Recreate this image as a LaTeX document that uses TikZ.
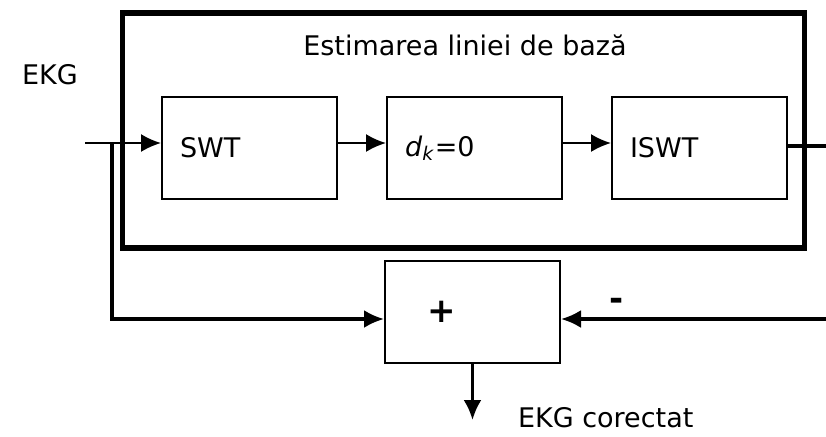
\documentclass[tikz,border=0pt]{standalone}
\usepackage{fontspec}
\setmainfont{DejaVu Sans}
\usepackage{tikz}
\usetikzlibrary{arrows.meta,positioning}

\begin{document}
\begin{tikzpicture}[x=0.5pt, y=-0.5pt,
  box/.style={draw, line width=1pt, minimum width=87.5pt, minimum height=51pt,
              inner xsep=9pt, text width=69.5pt, align=left},
  frame/.style={draw, line width=2.8pt, minimum width=341pt, minimum height=117.5pt},
  arr/.style={-{Latex[length=10pt,width=9pt]}, line width=1pt},
  feed/.style={-{Latex[length=10pt,width=9pt]}, line width=1.6pt},
  node distance=0.5cm and 24pt,
  font=\fontsize{13.5}{16}\selectfont
]
  \useasboundingbox (0,0) rectangle (826,436);
  \node[frame] (est) at (463.5,130.5) {};
  \node (title) at (465,45) {Estimarea liniei de bază};
  \node (ekg) at (50,75) {EKG};
  \node[box] (swt) at (249.5,148) {SWT};
  \node[box, right=of swt] (dk) {\textit{d}\textsubscript{\textit{k}}=0};
  \node[box, right=of dk] (iswt) {ISWT};
  \node[box] (sum) at (472.5,311.5) {\hspace*{12pt}\fontsize{17}{18}\selectfont\textbf{+}};
  \node (minus) at (617,304) {\fontsize{17}{18}\selectfont\textbf{-}};
  \node[anchor=west] (res) at (511,418) {EKG corectat};
  \coordinate (in) at (85,143);
  \coordinate (br) at (112,143);
  \coordinate (out) at (826,146);
  \coordinate (fb) at (826,319);
  \coordinate (down) at (472.5,420);
  \draw[arr] (in) -- (in -| swt.west);
  \draw[arr] ([yshift=2.5pt]swt.east) -- ([yshift=2.5pt]dk.west);
  \draw[arr] ([yshift=2.5pt]dk.east) -- ([yshift=2.5pt]iswt.west);
  \draw[line width=2pt] (out -| iswt.east) -- (out);
  \draw[feed] (br) |- (fb -| sum.west);
  \draw[feed] (fb) -- (fb -| sum.east);
  \draw[feed] (sum.south) -- (down);
\end{tikzpicture}
\end{document}
